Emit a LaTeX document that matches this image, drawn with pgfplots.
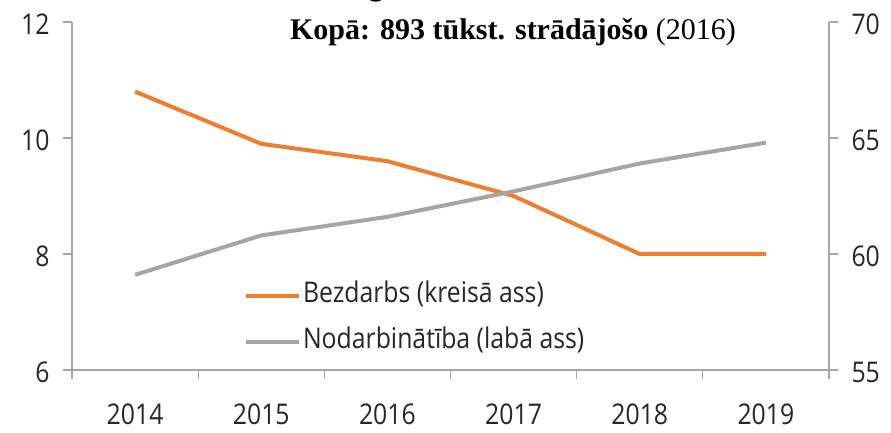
\documentclass[border=0pt]{standalone}
\usepackage{pgfplots}
\pgfplotsset{compat=1.18}
\usepackage{fontspec}
\setmainfont{Open Sans}[FakeStretch=0.87]
\newfontfamily\titlefont{Liberation Serif}
\definecolor{orng}{HTML}{ED7D31}
\definecolor{gry}{HTML}{A5A5A5}
\definecolor{axgray}{HTML}{A6A6A6}
\definecolor{txt}{HTML}{262626}
\pgfplotstableread{
x bez nod
0 10.8 59.1
1 9.9 60.8
2 9.6 61.6
3 9.0 62.7
4 8.0 63.9
5 8.0 64.8
}\data
\begin{document}
\begin{tikzpicture}[x=1pt,y=1pt]
\useasboundingbox (0,0) rectangle (891,433);
\begin{axis}[
  at={(72pt,63pt)}, anchor=south west,
  scale only axis, width=757pt, height=348pt,
  xmin=-0.5, xmax=5.5, ymin=6, ymax=12,
  xtick={-0.5,0.5,...,5.5},
  x tick label as interval,
  xticklabels={2014,2015,2016,2017,2018,2019},
  ytick={6,8,10,12},
  axis x line*=bottom, axis y line*=left,
  tick align=outside, major tick length=9pt,
  axis line style={axgray, line width=1.2pt},
  tick style={axgray, line width=1.2pt},
  ticklabel style={font=\fontsize{28.5}{32}\selectfont, text=txt},
  /pgf/number format/assume math mode=true,
  yticklabel style={xshift=-10pt, yshift=-2pt},
  xticklabel style={yshift=-21pt},
  legend cell align=left,
  legend image code/.code={\draw[#1] (0pt,0pt) -- (53pt,0pt);},
  legend style={at={(0.223,0.25)}, anchor=north west, draw=none, fill=none,
    font=\fontsize{28.5}{32}\selectfont, text=txt,
    nodes={inner sep=0pt, text height=17pt, text depth=5pt},
    row sep=24pt, column sep=2pt},
]
\addplot[orng, line width=4pt, line join=round] table[x=x,y=bez]{\data};
\addlegendentry{Bezdarbs (kreisā ass)}
\addlegendimage{gry, line width=4pt}
\addlegendentry{Nodarbinātība (labā ass)}
\end{axis}
\begin{axis}[
  at={(72pt,63pt)}, anchor=south west,
  scale only axis, width=757pt, height=348pt,
  xmin=-0.5, xmax=5.5, ymin=55, ymax=70,
  axis x line=none, axis y line*=right,
  ytick={55,60,65,70},
  tick align=outside, major tick length=9pt,
  axis line style={axgray, line width=1.2pt},
  tick style={axgray, line width=1.2pt},
  ticklabel style={font=\fontsize{28.5}{32}\selectfont, text=txt},
  /pgf/number format/assume math mode=true,
  yticklabel style={xshift=10pt, yshift=-2pt},
]
\addplot[gry, line width=4pt, line join=round] table[x=x,y=nod]{\data};
\end{axis}
\node[anchor=base, font=\titlefont\fontsize{30}{34}\selectfont] at (513,393) {\textbf{Kopā: 893 tūkst. strādājošo} (2016)};
\node[anchor=base, font=\titlefont\bfseries\fontsize{30}{34}\selectfont] at (376,437) {g};
\end{tikzpicture}
\end{document}
